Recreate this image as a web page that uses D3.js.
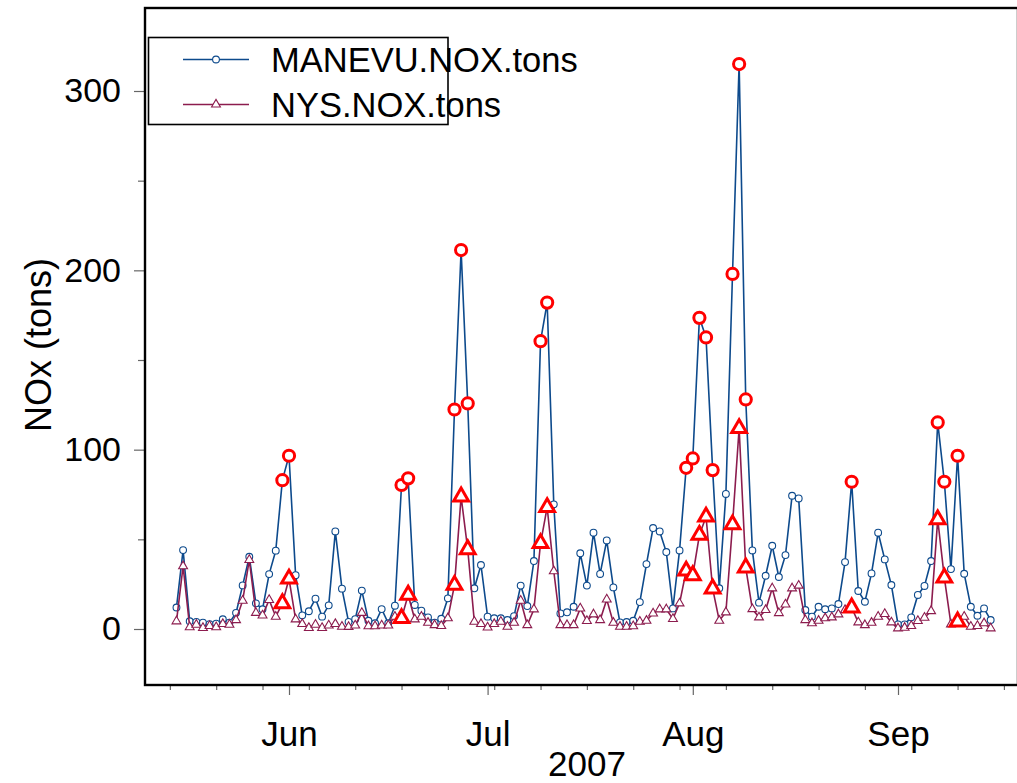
<!DOCTYPE html>
<html>
<head>
<meta charset="utf-8">
<title>NOx</title>
<style>
    body { margin: 0; padding: 0; background: #fff; }
    svg { display: block; }
    text { font-family: Arial, "Liberation Sans", Helvetica, sans-serif; fill: #000; }
</style>
</head>
<body>
<div id="chart"></div>
<script src="https://d3js.org/d3.v7.min.js"></script>
<script>
// daily values, 15 May 2007 .. 15 Sep 2007
var startDay = Date.UTC(2007, 4, 15);

var manevu = [
    // May 15-31
    12, 44, 4.3, 4, 3.5, 2.7, 3, 5.4, 3.5, 9, 24.3, 40.3, 14.3, 11, 30.6, 43.7, 83,
    // Jun
    96.6, 30, 7.6, 9.9, 16.9, 6.9, 13.2, 54.4, 22.5, 4, 5.5, 21.4, 4.6, 3.2, 11.1,
    3.2, 13, 80.3, 84, 13.4, 10.2, 6.5, 3.5, 5.7, 17.1, 122.4, 211.3, 125.8, 22.7, 35.7,
    // Jul
    6.9, 6, 6, 5, 7.2, 24.2, 12.8, 37.9, 160.5, 182, 69.5, 8.7, 9.3, 12.4, 42.2, 24.2,
    53.7, 30.7, 49.4, 23.2, 3.7, 3.9, 4.6, 15, 36.2, 56.3, 54.4, 42.9, 11.5, 43.8, 89.9,
    // Aug
    95.1, 173.5, 162.6, 88.6, 22.7, 75.3, 198, 315, 128, 43.8, 14.7, 29.7, 46.4, 29, 41.2,
    74.3, 72.8, 10.6, 6.9, 12.4, 11, 11.5, 13.9, 37.3, 82.1, 21.2, 15.2, 31, 53.7, 38.8, 24.5,
    // Sep 1-15
    2.6, 2.6, 6.5, 19, 24, 37.9, 115.2, 82.1, 33.4, 96.6, 30.8, 12.4, 7.4, 11.5, 5
];

var nys = [
    4.3, 35, 1, 2.4, 0.6, 1.7, 1, 2.8, 2.4, 5, 15.8, 38.5, 9, 7.6, 16.2, 6.9, 14.3,
    28, 5.4, 2.8, 0.6, 2.4, 0.6, 2, 2.8, 1.3, 1.2, 2, 9, 1.6, 1.6, 2,
    2, 6.9, 6, 19, 5.4, 6.9, 3.5, 2.2, 1.7, 6, 24.5, 73.8, 44.4, 4.1, 2.8,
    0.9, 2.8, 4.1, 1.3, 3.5, 15.8, 2.2, 11, 47.8, 67.9, 32.2, 2.2, 2.2, 2.2, 11.5, 4.5,
    8.2, 5, 16.5, 3.5, 1.3, 1.3, 1.6, 4.1, 4.6, 8.7, 11, 11, 5.6, 14.3, 32.5,
    29.9, 52.4, 62.6, 22.5, 4.6, 9.3, 58.3, 111.9, 34.2, 11.1, 6.5, 10.6, 22.7, 8.9, 13.7,
    22.7, 24.2, 5, 3.2, 4.6, 6, 6.5, 8.2, 10.6, 11.9, 3.7, 2.2, 3.5, 6.9, 8.4, 3.7,
    0.4, 0.7, 1.7, 4.5, 6.3, 10, 61.1, 28.6, 2.6, 4.1, 6.9, 1.3, 1.7, 3.2, 0.4
];

// highlighted days (red markers)
var highlightDays = [
    "2007-05-31", "2007-06-01", "2007-06-18", "2007-06-19", "2007-06-26", "2007-06-27",
    "2007-06-28", "2007-07-09", "2007-07-10", "2007-07-31", "2007-08-01", "2007-08-02",
    "2007-08-03", "2007-08-04", "2007-08-07", "2007-08-08", "2007-08-09", "2007-08-25",
    "2007-09-07", "2007-09-08", "2007-09-10"
];

var seriesNames = ["MANEVU.NOX.tons", "NYS.NOX.tons"];
var monthLabels = ["Jun", "Jul", "Aug", "Sep"];
var yTicks = [0, 100, 200, 300];
var yMinor = [50, 150, 250];

var width = 1017, height = 783;
var frame = { left: 145, top: 8, right: 1018, bottom: 685 };
var blue = "#0d4a8c", purple = "#8c1c4e", red = "#ff0000";

var dayMs = 24 * 3600 * 1000;
var rows = manevu.map(function (v, i) {
    var d = new Date(startDay + i * dayMs);
    return { date: d, key: d3.utcFormat("%Y-%m-%d")(d), manevu: v, nys: nys[i] };
});
var hiRows = rows.filter(function (r) { return highlightDays.indexOf(r.key) >= 0; });

var x = d3.scaleUtc()
    .domain([new Date(Date.UTC(2007, 5, 1)), new Date(Date.UTC(2007, 8, 1))])
    .range([289, 898]);
var y = d3.scaleLinear().domain([0, 300]).range([629, 91]);

var svg = d3.select("#chart").append("svg")
    .attr("width", width)
    .attr("height", height);

var xStart = x.invert(frame.left), xEnd = x.invert(frame.right);

// x axis: weekly minor ticks + month major ticks
svg.append("g")
    .attr("transform", "translate(0," + frame.bottom + ")")
    .call(d3.axisBottom(x).tickValues(d3.utcMonday.range(xStart, xEnd)).tickSize(5).tickFormat(""))
    .call(function (g) {
        g.select(".domain").remove();
        g.selectAll("line").attr("stroke", "#666").attr("stroke-width", 1.2);
    });

svg.append("g")
    .attr("transform", "translate(0," + frame.bottom + ")")
    .call(d3.axisBottom(x).tickValues(d3.utcMonth.range(xStart, xEnd)).tickSize(10).tickPadding(26)
        .tickFormat(function (d, i) { return monthLabels[i]; }))
    .call(function (g) {
        g.select(".domain").remove();
        g.selectAll("line").attr("stroke", "#666").attr("stroke-width", 1.2);
        g.selectAll("text").attr("font-size", 35).attr("font-family", null).attr("fill", "#000");
    });

svg.append("text")
    .attr("x", 587)
    .attr("y", 776)
    .attr("text-anchor", "middle")
    .attr("font-size", 35)
    .text("2007");

// y axis
svg.append("g")
    .attr("transform", "translate(" + frame.left + ",0)")
    .call(d3.axisLeft(y).tickValues(yMinor).tickSize(7).tickFormat(""))
    .call(function (g) {
        g.select(".domain").remove();
        g.selectAll("line").attr("stroke", "#666").attr("stroke-width", 1.2);
    });

svg.append("g")
    .attr("transform", "translate(" + frame.left + ",0)")
    .call(d3.axisLeft(y).tickValues(yTicks).tickSize(11).tickPadding(13))
    .call(function (g) {
        g.select(".domain").remove();
        g.selectAll("line").attr("stroke", "#666").attr("stroke-width", 1.2);
        g.selectAll("text").attr("font-size", 34).attr("font-family", null).attr("fill", "#000");
    });

svg.append("text")
    .attr("transform", "translate(51,345) rotate(-90)")
    .attr("text-anchor", "middle")
    .attr("font-size", 36)
    .text("NOx (tons)");

// frame
svg.append("rect")
    .attr("x", frame.left)
    .attr("y", frame.top)
    .attr("width", frame.right - frame.left)
    .attr("height", frame.bottom - frame.top)
    .attr("fill", "none")
    .attr("stroke", "#000")
    .attr("stroke-width", 2.4);

var tri = d3.symbol().type(d3.symbolTriangle).size(34);
var triBig = d3.symbol().type(d3.symbolTriangle).size(95);

function drawSeries(key, color, marker) {
    svg.append("path")
        .datum(rows)
        .attr("fill", "none")
        .attr("stroke", color)
        .attr("stroke-width", 1.6)
        .attr("d", d3.line().x(function (d) { return x(d.date); }).y(function (d) { return y(d[key]); }));

    if (marker === "circle") {
        svg.append("g").selectAll("circle")
            .data(rows)
            .join("circle")
            .attr("cx", function (d) { return x(d.date); })
            .attr("cy", function (d) { return y(d[key]); })
            .attr("r", 3.4)
            .attr("fill", "#fff")
            .attr("stroke", color)
            .attr("stroke-width", 1.1);
    } else {
        svg.append("g").selectAll("path")
            .data(rows)
            .join("path")
            .attr("transform", function (d) { return "translate(" + x(d.date) + "," + y(d[key]) + ")"; })
            .attr("d", tri)
            .attr("fill", "#fff")
            .attr("stroke", color)
            .attr("stroke-width", 1.1);
    }
}

drawSeries("manevu", blue, "circle");
drawSeries("nys", purple, "triangle");

// red highlights
svg.append("g").selectAll("circle")
    .data(hiRows)
    .join("circle")
    .attr("cx", function (d) { return x(d.date); })
    .attr("cy", function (d) { return y(d.manevu); })
    .attr("r", 5.6)
    .attr("fill", "#fff")
    .attr("stroke", red)
    .attr("stroke-width", 3);

svg.append("g").selectAll("path")
    .data(hiRows)
    .join("path")
    .attr("transform", function (d) { return "translate(" + x(d.date) + "," + y(d.nys) + ")"; })
    .attr("d", triBig)
    .attr("fill", "#fff")
    .attr("stroke", red)
    .attr("stroke-width", 3);

// legend
var legend = svg.append("g");
legend.append("rect")
    .attr("x", 148.5).attr("y", 37.5)
    .attr("width", 299.5).attr("height", 87)
    .attr("fill", "#fff")
    .attr("stroke", "#000")
    .attr("stroke-width", 1.6);

var legendItems = [
    { name: seriesNames[0], color: blue, marker: "circle", y: 59.5 },
    { name: seriesNames[1], color: purple, marker: "triangle", y: 104.5 }
];
legendItems.forEach(function (it) {
    legend.append("line")
        .attr("x1", 183).attr("x2", 249)
        .attr("y1", it.y).attr("y2", it.y)
        .attr("stroke", it.color).attr("stroke-width", 1.6);
    if (it.marker === "circle") {
        legend.append("circle")
            .attr("cx", 216).attr("cy", it.y).attr("r", 3.4)
            .attr("fill", "#fff").attr("stroke", it.color).attr("stroke-width", 1.1);
    } else {
        legend.append("path")
            .attr("transform", "translate(216," + it.y + ")")
            .attr("d", tri)
            .attr("fill", "#fff").attr("stroke", it.color).attr("stroke-width", 1.1);
    }
    legend.append("text")
        .attr("x", 271)
        .attr("y", it.y + 12)
        .attr("font-size", 34.5)
        .text(it.name);
});
</script>
</body>
</html>
